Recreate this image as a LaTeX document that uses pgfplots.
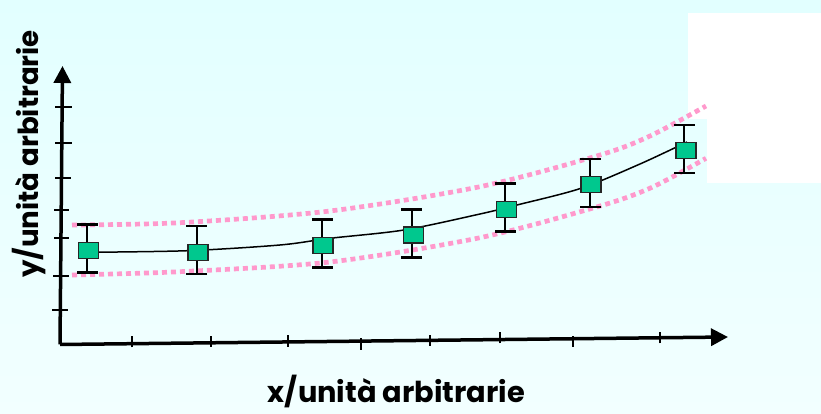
\documentclass[border=0pt]{standalone}
\usepackage{fontspec}
\setmainfont{Poppins}
\usepackage{pgfplots}
\pgfplotsset{compat=1.18}
\usetikzlibrary{arrows.meta}
\definecolor{bgtop}{RGB}{226,255,255}
\definecolor{bgbot}{RGB}{242,255,255}
\definecolor{pinkband}{RGB}{255,153,204}
\definecolor{sqfill}{RGB}{0,200,142}
\begin{document}
\begin{tikzpicture}
\begin{axis}[at={(0,0)}, anchor=south west, scale only axis,
  width=821pt, height=414pt, xmin=0, xmax=821, ymin=0, ymax=414,
  hide axis, clip=false]
\shade[top color=bgtop, bottom color=bgbot] (axis cs:0,0) rectangle (axis cs:821,414);
\fill[white] (axis cs:688,295) rectangle (axis cs:821,401);
\fill[white] (axis cs:707,231) rectangle (axis cs:821,295);
% confidence bands
\addplot[pinkband, line width=4.7pt, dash pattern=on 5pt off 4pt, smooth] coordinates {
(72,189) (180,191.3) (330,203) (480,227.3) (600,259) (650,278) (706,308)};
\addplot[pinkband, line width=4.7pt, dash pattern=on 5pt off 4pt, smooth] coordinates {
(72,139) (180,142.3) (330,152) (480,176.3) (600,208) (652,226.7) (706,255.7)};
% fit line
\addplot[black, line width=1.5pt, smooth] coordinates {
(88,161.7) (188,163.3) (280,169) (330,175.7) (404,184) (480,200) (517,209) (581,225.7) (640,250) (687,272)};
% data squares
\addplot[only marks, mark=square*, mark size=10pt,
  mark options={yscale=0.8, fill=sqfill, draw=black!85, line width=1.3pt}] coordinates {
(88.3,163.2) (198,161.5) (323,168.5) (413.7,179) (506.7,204.5) (591,229.5) (686,263.5)};
% error bars
\addplot[draw=none, mark=none,
  error bars/.cd, y dir=both, y explicit, error mark=|,
  error bar style={draw=black, line width=1.8pt},
  error mark options={draw=black, line width=2.5pt, mark size=10.5pt}] coordinates {
(87.3,165.7) +- (0,24)
(196.7,163.85) +- (0,24)
(322.3,170.3) +- (0,24)
(411.7,180.65) +- (0,24)
(505,206.3) +- (0,24)
(590,231) +- (0,24)
(684.3,265.15) +- (0,24)
};
% axes
\addplot[black, line width=3.5pt, -{Triangle[length=17pt,width=17pt]}] coordinates {(60,69.5) (62.5,348)};
\addplot[black, line width=3.5pt, -{Triangle[length=17pt,width=17pt]}] coordinates {(60,69.5) (728,77)};
% y ticks
\addplot[black, line width=2pt] coordinates {(55,307.3) (71.5,307.3)};
\addplot[black, line width=2pt] coordinates {(55,270.7) (71.5,270.7)};
\addplot[black, line width=2pt] coordinates {(55,236) (71,236)};
\addplot[black, line width=2pt] coordinates {(54,204) (69,204)};
\addplot[black, line width=2pt] coordinates {(54,176.3) (68.5,176.3)};
\addplot[black, line width=2pt] coordinates {(53,138) (69,138)};
\addplot[black, line width=2pt] coordinates {(52,104) (68,104)};
% x ticks
\addplot[black, line width=2pt] coordinates {(131.7,66.7) (131.7,78)};
\addplot[black, line width=2pt] coordinates {(211,67.3) (211,78.3)};
\addplot[black, line width=2pt] coordinates {(287.7,67.3) (287.7,79)};
\addplot[black, line width=2pt] coordinates {(361,64) (361,75.7)};
\addplot[black, line width=2pt] coordinates {(430,68) (430,79)};
\addplot[black, line width=2pt] coordinates {(500,70.7) (500,81.7)};
\addplot[black, line width=2pt] coordinates {(572.7,67.3) (572.7,78.3)};
\addplot[black, line width=2pt] coordinates {(660,70.7) (660,82.3)};
% labels
\node[rotate=90, anchor=base, font=\bfseries, inner sep=0pt] at (axis cs:38,260) {\resizebox{248pt}{!}{y/unità arbitrarie}};
\node[anchor=base, font=\bfseries, inner sep=0pt] at (axis cs:396.5,11) {\resizebox{257pt}{!}{x/unità arbitrarie}};
\end{axis}
\pgfresetboundingbox
\useasboundingbox (0,0) rectangle (821pt,414pt);
\end{tikzpicture}
\end{document}
